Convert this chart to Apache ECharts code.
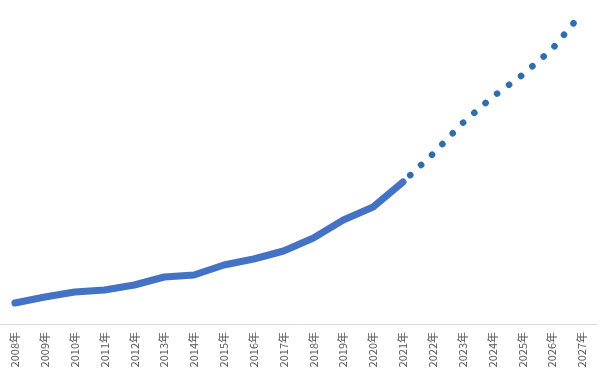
<!DOCTYPE html>
<html><head><meta charset="utf-8">
<script src="https://cdn.jsdelivr.net/npm/echarts@6/dist/echarts.min.js"></script>
<style>html,body{margin:0;padding:0;background:#fff}#c{width:600px;height:382px}</style>
</head><body><div id="c"></div>
<script>
const years = ['2008年','2009年','2010年','2011年','2012年','2013年','2014年','2015年','2016年','2017年','2018年','2019年','2020年','2021年','2022年','2023年','2024年','2025年','2026年','2027年'];
const actual = [21,27,32,34,39,47,49,59,65,73,86,104,117,142];
const forecast = [142,170,201,227,249,275,311];

const actualData = years.map((y,i)=> i < actual.length ? actual[i] : '-');
const forecastStart = actual.length - 1;
const forecastData = years.map((y,i)=> i >= forecastStart ? forecast[i-forecastStart] : '-');

const chart = echarts.init(document.getElementById('c'));
chart.setOption({
  animation:false,
  grid:{left:0,right:3,top:4,bottom:58,containLabel:false},
  xAxis:{type:'category',data:years,boundaryGap:true,
    axisLine:{lineStyle:{color:'#d9d9d9',width:1}},
    axisTick:{show:false},
    axisLabel:{rotate:90,color:'#595959',fontSize:11,margin:8,fontFamily:'"Noto Sans CJK SC", sans-serif',interval:0}},
  yAxis:{type:'value',min:0,max:320,show:false,splitLine:{show:false}},
  series:[
    {type:'line',data:actualData,symbol:'none',
      lineStyle:{color:'#4472C4',width:7,cap:'round',join:'round'}},
    {type:'line',data:forecastData,symbol:'none',
      lineStyle:{color:'#2E6DAE',width:6.5,type:[0.1,14.8],cap:'round',dashOffset:-10}}
  ]
});
</script></body></html>
